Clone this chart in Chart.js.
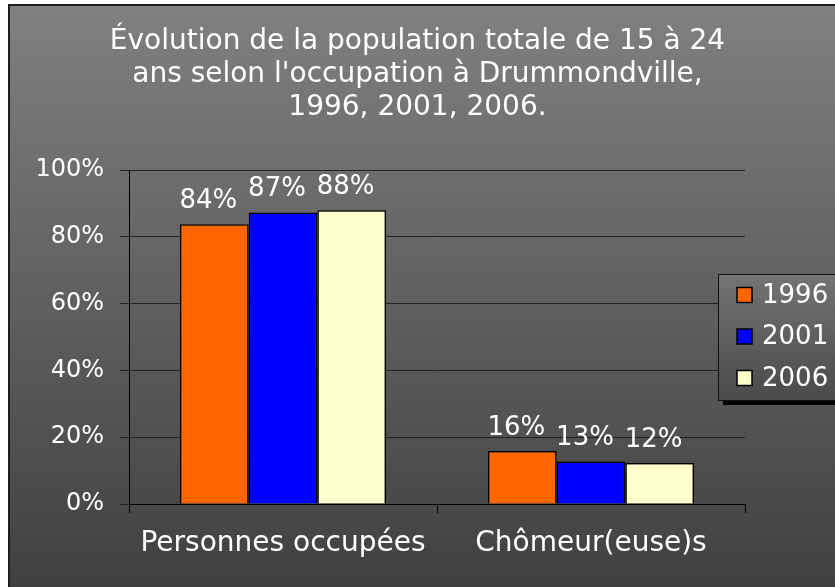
<!DOCTYPE html>
<html>
<head>
<meta charset="utf-8">
<script src="https://cdn.jsdelivr.net/npm/chart.js@4/dist/chart.umd.min.js"></script>
<style>
  html, body { margin: 0; padding: 0; background: #ffffff; overflow: hidden; }
  #wrap { position: absolute; left: 0; top: 0; width: 835px; height: 587px; }
</style>
</head>
<body>
<div id="wrap"><canvas id="c" width="835" height="587"></canvas></div>
<script>
const categories = ['Personnes occupées', 'Chômeur(euse)s'];
const years = ['1996', '2001', '2006'];
const values1996 = [83.8, 15.9];
const values2001 = [87.3, 12.7];
const values2006 = [88.0, 12.3];
const yTickStep = 20;
const titleLines = ['Évolution de la population totale de 15 à 24', "ans selon l'occupation à Drummondville,", '1996, 2001, 2006.'];

const FONT = "'DejaVu Sans', sans-serif";
const colors = ['#FF6600', '#0000FF', '#FFFFCC'];

const bgPlugin = {
  id: 'bg',
  beforeDraw(chart) {
    const ctx = chart.ctx;
    ctx.save();
    ctx.fillStyle = '#ffffff';
    ctx.fillRect(0, 0, chart.width, chart.height);
    const g = ctx.createLinearGradient(0, 5, 0, chart.height);
    g.addColorStop(0, '#808080');
    g.addColorStop(1, '#404040');
    ctx.fillStyle = g;
    ctx.fillRect(8, 4, chart.width - 8, chart.height - 4);
    ctx.fillStyle = '#1e1e1e';
    ctx.fillRect(8, 4, 2, chart.height - 4);
    ctx.fillRect(8, 4, chart.width - 8, 2);
    ctx.restore();
  }
};

const labelPlugin = {
  id: 'vlabels',
  afterDatasetsDraw(chart) {
    const ctx = chart.ctx;
    ctx.save();
    ctx.fillStyle = '#ffffff';
    ctx.font = '26px ' + FONT;
    ctx.textAlign = 'center';
    ctx.textBaseline = 'bottom';
    chart.data.datasets.forEach((ds, i) => {
      const meta = chart.getDatasetMeta(i);
      meta.data.forEach((bar, j) => {
        ctx.fillText(Math.round(ds.data[j]) + '%', bar.x - 6, bar.y - 10);
      });
    });
    ctx.restore();
  }
};

const legendPlugin = {
  id: 'customLegend',
  afterDraw(chart) {
    const ctx = chart.ctx;
    const x = 718, y = 274, w = 140, h = 126;
    ctx.save();
    ctx.fillStyle = '#000000';
    ctx.fillRect(x + 5, y + 5, w, h);
    const g = ctx.createLinearGradient(0, y, 0, y + h);
    g.addColorStop(0, '#747474');
    g.addColorStop(1, '#4a4a4a');
    ctx.fillStyle = g;
    ctx.fillRect(x, y, w, h);
    ctx.strokeStyle = '#111111';
    ctx.lineWidth = 1;
    ctx.strokeRect(x + 0.5, y + 0.5, w, h);
    ctx.font = '26px ' + FONT;
    ctx.textBaseline = 'middle';
    ctx.textAlign = 'left';
    chart.data.datasets.forEach((ds, i) => {
      const cy = y + 21 + i * 41.5;
      ctx.fillStyle = ds.backgroundColor;
      ctx.fillRect(x + 19, cy - 7.5, 15, 15);
      ctx.strokeStyle = '#000000';
      ctx.lineWidth = 1.5;
      ctx.strokeRect(x + 19, cy - 7.5, 15, 15);
      ctx.fillStyle = '#ffffff';
      ctx.fillText(ds.label, x + 44, cy + 1);
    });
    ctx.restore();
  }
};

new Chart(document.getElementById('c'), {
  type: 'bar',
  data: {
    labels: categories,
    datasets: [
      { label: years[0], data: values1996, backgroundColor: colors[0] },
      { label: years[1], data: values2001, backgroundColor: colors[1] },
      { label: years[2], data: values2006, backgroundColor: colors[2] }
    ].map(d => Object.assign(d, { borderColor: '#000000', borderWidth: 1.5, borderSkipped: 'bottom', categoryPercentage: 0.669, barPercentage: 1.0 }))
  },
  options: {
    responsive: false,
    animation: false,
    events: [],
    layout: { padding: { left: 0, right: 0, top: 0, bottom: 0 } },
    plugins: {
      legend: { display: false },
      tooltip: { enabled: false },
      title: {
        display: true,
        text: titleLines,
        color: '#ffffff',
        font: { family: FONT, size: 28, weight: 'normal', lineHeight: 1.18 },
        padding: { top: 25, bottom: 46 }
      }
    },
    scales: {
      x: {
        grid: { display: true, drawOnChartArea: false, drawTicks: true, tickLength: 9, color: '#000000', offset: true },
        border: { display: true, color: '#000000', width: 1 },
        ticks: { color: '#ffffff', font: { family: FONT, size: 28 }, padding: 14 },
        afterFit(scale) { scale.height = 83; }
      },
      y: {
        min: 0, max: 100,
        grid: { color: '#222222', lineWidth: 1, drawTicks: true, tickLength: 9 },
        border: { display: true, color: '#000000', width: 1 },
        ticks: { stepSize: yTickStep, color: '#ffffff', font: { family: FONT, size: 24 }, padding: 16, callback: v => v + '%' },
        afterFit(scale) { scale.width = 129; }
      },
      yRight: {
        position: 'right',
        min: 0, max: 100,
        grid: { display: false, drawTicks: false },
        border: { display: false },
        ticks: { display: false },
        afterFit(scale) { scale.width = 90; }
      }
    }
  },
  plugins: [bgPlugin, labelPlugin, legendPlugin]
});
</script>
</body>
</html>
